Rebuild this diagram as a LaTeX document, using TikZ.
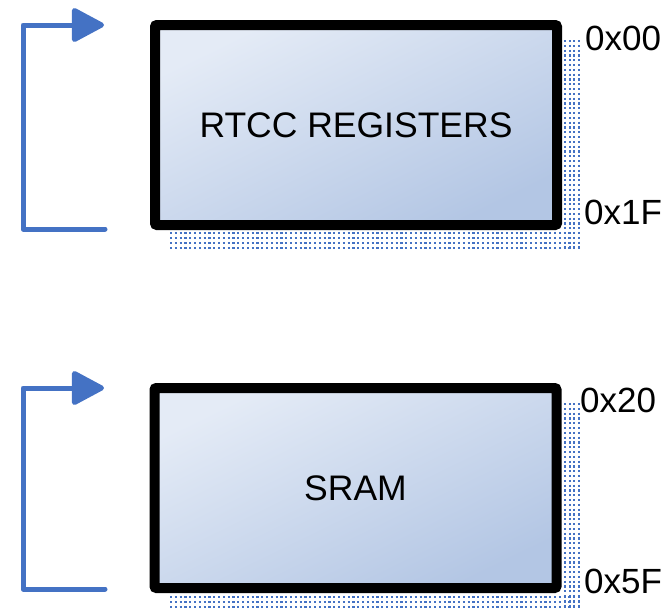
\documentclass[tikz,border=0pt]{standalone}
\usepackage{fontspec}
\setmainfont{Liberation Sans}
\usetikzlibrary{arrows.meta}
\definecolor{arrblue}{HTML}{4472C4}
\definecolor{fillA}{HTML}{E4EBF6}
\definecolor{fillB}{HTML}{B3C6E4}
\begin{document}
\begin{tikzpicture}[x=1pt,y=-1pt,
  membox/.style={draw=black, line width=10pt, rounded corners=2pt,
    top color=fillA, bottom color=fillB, shading angle=26,
    minimum width=402pt, minimum height=200pt, inner sep=0pt,
    font=\fontsize{35.5}{40}\selectfont},
  addr/.style={anchor=west, inner sep=0pt, font=\fontsize{35}{40}\selectfont},
  shadowdots/.style={draw=arrblue, line width=2pt, dash pattern=on 2.2pt off 2.6pt},
  bracket/.style={draw=arrblue, line width=5pt, line cap=round, line join=round,
    -{Triangle[length=35pt,width=36pt,round=false]}}
]
\useasboundingbox (0,0) rectangle (667,608);
% dotted shadows
\begin{scope}
\clip (0,0) rectangle (667,608);
\foreach \xx in {565,569.5,574,578.5}{
  \draw[shadowdots] (\xx,40) -- (\xx,250);
  \draw[shadowdots] (\xx,403) -- (\xx,612);
}
\foreach \yy in {233,238,243,248}{
  \draw[shadowdots] (170,\yy) -- (580,\yy);
}
\foreach \yy in {597,602,607}{
  \draw[shadowdots] (170,\yy) -- (580,\yy);
}
\end{scope}
% boxes
\node[membox] (rtcc) at (356,125) {RTCC REGISTERS};
\node[membox] (sram) at (355.5,488) {SRAM};
% address labels
\node[addr] (a00) at (585,38.5) {0x00};
\node[addr] (a1f) at (584,212.5) {0x1F};
\node[addr] (a20) at (580,400) {0x20};
\node[addr] (a5f) at (584,581) {0x5F};
% bracket arrows
\coordinate (s1) at (105,229);
\coordinate (c1b) at (23,229);
\coordinate (c1t) at (23,25);
\coordinate (t1) at (104,25);
\draw[bracket] (s1) -- (c1b) -- (c1t) -- (t1);
\coordinate (s2) at (105,589);
\coordinate (c2b) at (23,589);
\coordinate (c2t) at (23,388);
\coordinate (t2) at (104,388);
\draw[bracket] (s2) -- (c2b) -- (c2t) -- (t2);
\end{tikzpicture}
\end{document}
